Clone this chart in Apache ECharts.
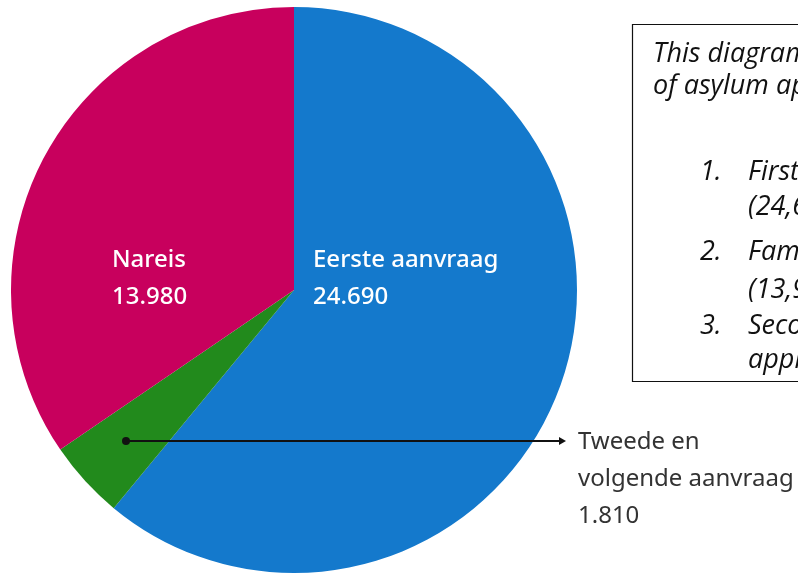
<!DOCTYPE html>
<html>
<head>
<meta charset="utf-8">
<script src="https://cdn.jsdelivr.net/npm/echarts@6/dist/echarts.min.js"></script>
<style>
  html, body { margin: 0; padding: 0; background: #fff; }
  #chart { width: 798px; height: 574px; }
</style>
</head>
<body>
<div id="chart"></div>
<script>
// asylum applications by type
var categories = ["Eerste aanvraag", "Tweede en\nvolgende aanvraag", "Nareis"];
var values = [24690, 1810, 13980];
var colors = ["#1479cc", "#228a1c", "#c8005d"];

// explanatory note on the right (cut off by the page edge)
var noteIntro = ["This diagram shows the number", "of asylum applications in 2019:"];
var noteNums = ["1.", "2.", "3."];
var noteItems = [
  ["First applications", "(24,690)"],
  ["Family reunification", "(13,980)"],
  ["Second and subsequent", "applications (1,810)"]
];

function fmt(v) {
  // dutch thousands separator
  return String(v).replace(/\B(?=(\d{3})+(?!\d))/g, ".");
}

var chart = echarts.init(document.getElementById("chart"));

var noteFont = 'italic 27px "Open Sans"';
var graphics = [
  {
    type: "rect",
    shape: { x: 632.5, y: 24.5, width: 200, height: 357 },
    style: { fill: "#fff", stroke: "#111", lineWidth: 1.2 }
  }
];
noteIntro.forEach(function (t, i) {
  graphics.push({
    type: "text", x: 653, y: 54 + i * 32,
    style: { text: t, font: noteFont, fill: "#111", verticalAlign: "middle" }
  });
});
var rowY = [172, 207, 252, 290, 326, 360];
noteItems.forEach(function (lines, i) {
  graphics.push({
    type: "text", x: 700, y: rowY[i * 2],
    style: { text: noteNums[i], font: noteFont, fill: "#111", verticalAlign: "middle" }
  });
  lines.forEach(function (t, j) {
    graphics.push({
      type: "text", x: 748, y: rowY[i * 2 + j],
      style: { text: t, font: noteFont, fill: "#111", verticalAlign: "middle" }
    });
  });
});
// pointer for the small slice
graphics.push({
  type: "line",
  shape: { x1: 126, y1: 441, x2: 562, y2: 441 },
  style: { stroke: "#111", lineWidth: 2 },
  z: 10
});
graphics.push({
  type: "circle",
  shape: { cx: 126, cy: 441, r: 4 },
  style: { fill: "#111" },
  z: 10
});
graphics.push({
  type: "polygon",
  shape: { points: [[559, 437], [566, 441], [559, 445]] },
  style: { fill: "#111" },
  z: 10
});

var option = {
  backgroundColor: "#fff",
  animation: false,
  graphic: graphics,
  series: [
    {
      type: "pie",
      center: [294, 290],
      radius: [0, 283],
      startAngle: 90,
      clockwise: true,
      silent: true,
      data: categories.map(function (c, i) {
        var d = { name: c, value: values[i], itemStyle: { color: colors[i] } };
        // the small slice's label sits outside the pie, in dark text
        if (i === 1) d.label = { color: "#333", fontWeight: "normal" };
        return d;
      }),
      label: {
        show: true,
        position: "inside",
        formatter: function (p) { return p.name + "\n" + fmt(p.value); },
        fontFamily: "Noto Sans",
        fontWeight: 500,
        fontSize: 24,
        lineHeight: 37,
        color: "#fff"
      },
      labelLine: { show: false },
      labelLayout: function (p) {
        if (p.dataIndex === 0) return { x: 313, y: 279, align: "left", verticalAlign: "middle" };
        if (p.dataIndex === 2) return { x: 112, y: 279, align: "left", verticalAlign: "middle" };
        return { x: 578, y: 479, align: "left", verticalAlign: "middle" };
      },
      emphasis: { disabled: true }
    }
  ]
};
chart.setOption(option);
</script>
</body>
</html>
